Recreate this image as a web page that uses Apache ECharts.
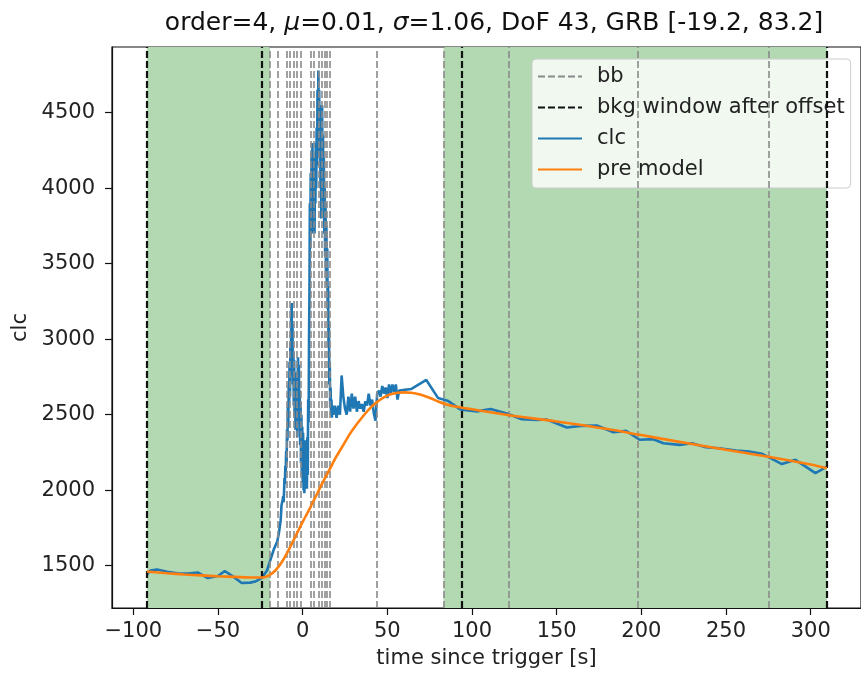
<!DOCTYPE html>
<html><head><meta charset="utf-8">
<script src="https://cdn.jsdelivr.net/npm/echarts@6/dist/echarts.min.js"></script>
<style>html,body{margin:0;padding:0;background:#fff}#c{width:861px;height:675px}</style>
</head><body><div id="c"></div>
<script>
// ---- data ----
const clcTime = [-92.0,-90.0,-86.0,-80.0,-74.0,-68.0,-62.0,-56.0,-50.0,-46.0,-41.0,-36.0,-31.0,-28.0,-24.0,-21.0,-19.0,-17.0,-15.0,-14.0,-13.0,-12.5,
  -12.0,-11.75,-11.5,-11.25,-11.0,-10.75,-10.5,-10.25,-10.0,-9.75,-9.5,-9.25,-9.0,-8.75,-8.5,-8.25,-8.0,-7.75,-7.5,-7.25,-7.0,-6.75,-6.5,-6.25,-6.0,-5.75,-5.5,-5.25,-5.0,-4.75,-4.5,-4.25,-4.0,-3.75,-3.5,-3.25,-3.0,-2.75,-2.5,-2.25,-2.0,-1.75,-1.5,-1.25,-1.0,-0.75,-0.5,-0.25,
  0.0,0.25,0.5,0.75,1.0,1.25,1.5,1.75,2.0,2.25,2.5,2.75,3.0,3.25,3.5,3.75,4.0,4.25,4.5,4.75,5.0,5.25,5.5,5.75,6.0,6.25,6.5,6.75,7.0,7.25,7.5,7.75,8.0,8.25,8.5,8.75,9.0,9.25,9.5,9.75,10.0,10.25,10.5,10.75,11.0,11.25,11.5,11.75,12.0,12.25,12.5,12.75,13.0,13.25,13.5,13.75,14.0,14.25,14.5,14.75,15.0,15.25,15.5,15.75,16.0,16.25,16.5,16.75,17.0,17.25,17.5,
  18.0,19.0,20.0,21.0,22.0,23.0,24.0,25.0,26.0,27.0,28.0,29.0,30.0,31.0,32.0,33.0,34.0,35.0,36.0,37.0,38.0,39.0,40.0,41.0,42.0,43.0,44.0,45.0,46.0,47.0,48.0,49.0,50.0,51.0,52.0,53.0,54.0,55.0,56.0,57.0,64.0,73.0,80.0,86.0,93.0,103.0,111.0,121.0,129.0,138.5,144.0,156.0,164.0,173.7,183.5,191.0,199.0,207.0,213.0,222.5,230.0,238.0,246.0,256.0,263.6,271.4,283.0,291.0,302.8,309.6];
const clcValue = [1440,1468,1475,1460,1450,1448,1455,1418,1432,1465,1428,1386,1388,1395,1420,1470,1540,1610,1660,1720,1800,1900,
  1890,1940,1960,1920,1990,2080,2040,2160,2120,2260,2180,2400,2330,2560,2420,2700,2580,2850,2620,2980,2760,3150,3240,2900,3100,2700,2920,2560,2860,2480,2720,2400,2780,2500,2680,2350,2700,2880,2600,2830,2450,2660,2300,2580,2180,2500,2100,2420,
  2050,2380,2000,2300,1980,2250,2020,2330,2060,2200,2010,2350,2100,2600,2450,3000,3300,3900,3600,4100,3800,4250,3700,4300,3950,4200,3850,4150,3700,4100,3900,4300,4000,4400,4150,4650,4300,4780,4500,4650,4200,4550,4000,4450,3800,4300,4550,4000,4350,3900,4200,3700,4000,3550,3900,3450,3750,3350,3600,3200,3350,2950,3100,2700,2850,2550,2680,2500,2600,2480,2560,
  2500,2560,2480,2560,2500,2760,2620,2540,2500,2620,2520,2640,2540,2620,2520,2590,2540,2570,2520,2590,2560,2640,2560,2600,2510,2460,2640,2660,2620,2690,2640,2680,2610,2700,2640,2700,2650,2700,2600,2660,2670,2730,2610,2590,2535,2522,2538,2506,2471,2466,2468,2415,2426,2428,2384,2393,2334,2338,2311,2300,2311,2285,2278,2263,2256,2241,2173,2201,2113,2157];
const modelTime = [-92,-80,-70,-60,-50,-40,-30,-24,-20,-16,-12,-8,-4,0,4,8,12,16,20,24,28,32,36,40,44,48,52,56,60,64,68,72,76,80,85,90,95,100,120,150,180,200,220,250,275,300,309.6];
const modelValue = [1462,1450,1442,1436,1430,1426,1422,1422,1435,1470,1530,1610,1700,1790,1875,1965,2055,2140,2225,2300,2375,2438,2495,2545,2585,2615,2635,2645,2648,2645,2637,2624,2607,2588,2568,2555,2545,2536,2500,2455,2405,2365,2325,2268,2222,2170,2146];
const bbTimes = [-19.2,-14.6,-9.2,-7.4,-5.5,-3.3,-1.2,5.0,6.6,9.7,11.3,12.9,14.5,16.1,43.6,83.2,121.5,198.0,275.0];
const bkgTimes = [-92.0,-24.2,94.0,309.6];
const bkgSpanStart = [-92.0,83.2];
const bkgSpanEnd = [-19.2,309.6];
const xTicks = [-100,-50,0,50,100,150,200,250,300];
const yTicks = [1500,2000,2500,3000,3500,4000,4500];
const seriesNames = ['bb','bkg window after offset','clc','pre model'];
const titleText = 'order=4, {i|\u03bc}=0.01, {i|\u03c3}=1.06, DoF 43, GRB [-19.2, 83.2]';

const FONT = 'DejaVu Sans';
const FS = 21;
const chart = echarts.init(document.getElementById('c'), null, {renderer:'canvas'});
const zip = (a,b) => a.map((v,i)=>[v,b[i]]);

chart.setOption({
  animation:false,
  backgroundColor:'#fff',
  title:{
    text:titleText, left:489, top:6, textAlign:'center',
    textStyle:{fontFamily:FONT,fontSize:25,fontWeight:'normal',color:'#111',
      rich:{i:{fontFamily:FONT,fontSize:25,fontStyle:'italic',color:'#111'}}}
  },
  grid:{left:112,top:47,width:754,bottom:67,show:true,borderColor:'#111',borderWidth:1.2,backgroundColor:'transparent'},
  legend:{
    data:seriesNames, orient:'vertical', left:532, top:59,
    itemWidth:44, itemHeight:14, itemGap:10,
    padding:[7,6,8,5],
    backgroundColor:'rgba(255,255,255,0.8)', borderColor:'#cccccc', borderWidth:1, borderRadius:4,
    itemStyle:{opacity:0},
    textStyle:{fontFamily:FONT,fontSize:FS,color:'#222',lineHeight:21,padding:[0,0,0,10]}
  },
  xAxis:{
    type:'value', min:-112.6, max:329.7,
    name:'time since trigger [s]', nameLocation:'middle', nameGap:40,
    nameTextStyle:{fontFamily:FONT,fontSize:FS,color:'#222'},
    axisLine:{show:true,onZero:false,lineStyle:{color:'#111',width:1.2}},
    axisTick:{show:true,inside:false,length:7,customValues:xTicks,lineStyle:{color:'#111',width:1.2}},
    axisLabel:{customValues:xTicks,fontFamily:FONT,fontSize:FS,color:'#222',margin:13,
      formatter:v=>String(v).replace('-','\u2212')},
    splitLine:{show:false}
  },
  yAxis:{
    type:'value', min:1220, max:4935,
    name:'clc', nameLocation:'middle', nameGap:76, nameRotate:90,
    nameTextStyle:{fontFamily:FONT,fontSize:FS,color:'#222'},
    axisLine:{show:true,onZero:false,lineStyle:{color:'#111',width:1.2}},
    axisTick:{show:true,inside:false,length:7,customValues:yTicks,lineStyle:{color:'#111',width:1.2}},
    axisLabel:{customValues:yTicks,fontFamily:FONT,fontSize:FS,color:'#222',margin:17,
      formatter:v=>String(v)},
    splitLine:{show:false}
  },
  series:[
    {name:'bkgArea',type:'line',data:[],z:1,silent:true,
      markArea:{silent:true,itemStyle:{color:'#b3d9b2'},
        data:bkgSpanStart.map((s,i)=>[{xAxis:s},{xAxis:bkgSpanEnd[i]}])}},
    {name:'bb',type:'line',data:[],symbol:'none',z:2,
      lineStyle:{color:'#8a8a8a',width:1.6,type:[7,3]},itemStyle:{color:'#8a8a8a'},
      markLine:{silent:true,symbol:['none','none'],label:{show:false},animation:false,
        lineStyle:{color:'#8a8a8a',width:1.6,type:[7,3]},
        data:bbTimes.map(v=>({xAxis:v}))}},
    {name:'bkg window after offset',type:'line',data:[],symbol:'none',z:3,
      lineStyle:{color:'#111',width:2.2,type:[7,3]},itemStyle:{color:'#111'},
      markLine:{silent:true,symbol:['none','none'],label:{show:false},animation:false,
        lineStyle:{color:'#111',width:2.2,type:[7,3]},
        data:bkgTimes.map(v=>({xAxis:v}))}},
    {name:'clc',type:'line',data:zip(clcTime,clcValue),symbol:'none',z:4,
      lineStyle:{color:'#1f77b4',width:2.6},itemStyle:{color:'#1f77b4'}},
    {name:'pre model',type:'line',data:zip(modelTime,modelValue),symbol:'none',smooth:0.3,z:5,
      lineStyle:{color:'#ff7f0e',width:2.6},itemStyle:{color:'#ff7f0e'}}
  ]
});
</script></body></html>
